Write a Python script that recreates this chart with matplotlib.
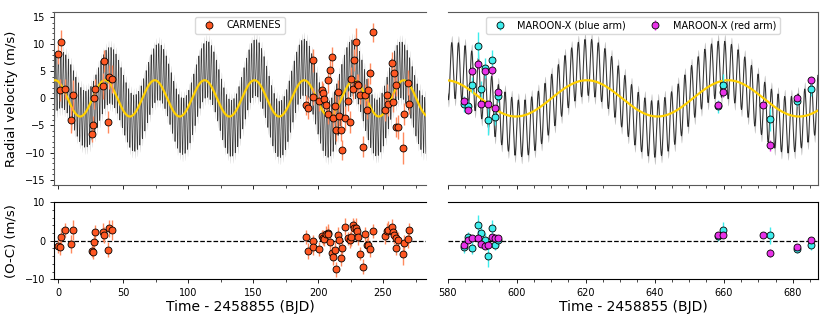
import numpy as np
import matplotlib.pyplot as plt
from matplotlib.ticker import MultipleLocator

plt.rcParams['font.family'] = 'DejaVu Sans'
plt.rcParams['axes.unicode_minus'] = True

# CARMENES (time - 2458855, RV, error, O-C)
t_carm = [0.2, 1.2, 2.4, 5.6, 10.2, 11.3,
          25.9, 26.6, 27.6, 28.8, 34.6, 35.5, 38.7, 39.4, 41.5,
          190.8, 192.6, 195.9, 196.4, 201.0, 202.8, 203.6, 204.6, 205.9, 207.4,
          207.9, 209.2, 211.0, 211.8, 213.1, 213.8, 215.1, 216.2, 217.7, 218.7,
          220.8, 223.3, 224.6, 225.4, 226.7, 227.7, 229.0, 229.8, 231.0, 232.3,
          234.4, 236.2, 237.4, 238.5, 240.0, 242.6, 251.5, 253.3, 254.1, 257.2,
          257.9, 258.7, 259.8, 260.2, 261.8, 265.6, 266.4, 269.5, 270.2]
rv_carm = [8.2, 1.6, 10.4, 1.7, -4.0, 0.7,
           -6.5, -5.0, 0.1, 1.8, 2.2, 6.9, -4.4, 3.9, 3.6,
           -1.2, -1.8, 0.3, 7.0, -0.4, 1.5, 0.9, -0.1, -1.3, 3.3,
           -2.8, 5.2, 7.6, -3.7, -1.5, -5.9, 1.2, -3.3, -5.9, -9.5,
           -3.7, -0.5, -4.4, 3.5, 1.7, 7.1, 10.4, 2.7, 2.5, 0.6,
           -8.9, 0.6, -2.1, 1.5, 4.6, 12.2, -2.1, 0.7, -1.0, 6.5,
           -0.7, 4.7, 2.5, -5.3, -5.3, -9.2, -2.9, 2.9, -1.0]
err_carm = [1.8, 2.0, 2.2, 1.8, 2.4, 2.6,
            1.6, 1.8, 2.0, 1.8, 2.4, 2.0, 2.0, 2.2, 2.6,
            1.8, 2.0, 1.6, 2.2, 1.9, 1.7, 2.0, 1.8, 2.1, 2.3,
            1.9, 2.4, 1.8, 2.0, 2.2, 1.9, 2.1, 1.8, 2.0, 1.9,
            2.2, 1.8, 2.0, 2.3, 1.9, 2.1, 2.6, 1.8, 2.0, 1.7,
            1.9, 2.0, 1.8, 2.2, 1.9, 1.8, 2.0, 1.9, 2.2, 2.1,
            1.8, 2.4, 2.0, 1.9, 2.2, 2.9, 2.1, 2.3, 1.8]
oc_carm = [-1.3, -1.6, 1.0, 2.7, -0.8, 2.7,
           -2.6, -2.9, -0.4, 2.3, 2.3, 1.5, -2.3, 3.2, 2.8,
           1.0, -2.7, -0.1, -1.6, -2.1, 1.2, 0.8, 0.5, 1.7, 2.1,
           1.8, -0.3, -3.2, -4.3, -2.3, -7.4, 1.6, 0.3, -4.5, -2.0,
           3.6, 0.6, 0.2, 0.9, 4.1, 3.4, 3.2, 2.5, 1.0, -3.4,
           -6.7, 1.7, -1.2, -1.0, -2.2, 2.6, 1.2, 2.6, 2.9, 3.5,
           2.3, 1.6, 0.8, -1.8, 0.1, -3.4, -0.6, 0.4, 2.7]

# MAROON-X blue arm
t_blue = [584.8, 585.8, 587.0, 588.7, 589.7, 590.8, 591.8, 592.8, 593.7, 594.7,
          658.4, 659.9, 673.4, 681.2, 685.2]
rv_blue = [-1.1, -1.5, 2.5, 9.7, 1.7, 5.6, -4.0, 7.0, -3.4, 0.5,
           -1.5, 2.5, -3.9, -0.4, 1.7]
err_blue = [1.5, 1.2, 1.5, 2.5, 1.5, 1.8, 2.8, 2.0, 1.5, 1.2,
            1.2, 2.0, 2.2, 1.0, 1.2]
oc_blue = [-1.6, 1.0, -1.9, 4.1, 2.1, 0.3, -3.9, 3.3, -1.0, 0.2,
           1.2, 2.9, 1.4, -2.1, -1.2]

# MAROON-X red arm
t_red = [584.8, 586.0, 587.0, 588.9, 589.7, 590.8, 591.8, 592.9, 593.7, 594.7,
         658.4, 659.7, 671.3, 673.4, 681.3, 685.2]
rv_red = [-0.4, -2.2, 5.0, 6.3, -1.1, 5.0, -1.1, 5.2, -1.8, 1.1,
          -1.2, 1.1, -1.2, -8.7, 0.1, 3.3]
err_red = [0.6, 0.7, 0.6, 0.8, 0.7, 0.6, 0.7, 0.8, 0.6, 0.6,
           0.7, 0.8, 0.7, 1.0, 0.6, 0.7]
oc_red = [-1.0, 0.3, 0.8, 0.6, -0.8, -1.4, -1.0, 1.0, 0.6, 0.8,
          1.4, 1.4, 1.4, -3.2, -1.6, 0.3]

# model parameters
act_amp = 3.35
act_period = [38.3, 41.0]      # season 1, season 2
act_tmin = [17.0, 599.8]
pb_period, pb_K, pb_tmax = 1.93, 5.2, 583.1
pc_period, pc_K, pc_tmax = 36.0, 2.4, 621.0
band = 1.3

c_carm = '#FF5722'
c_carm_err = '#FF8A5E'
c_blue = '#3EEDED'
c_red = '#E832E8'


def activity(t, season):
    return -act_amp * np.cos(2 * np.pi * (t - act_tmin[season]) / act_period[season])


def full_model(t, season):
    return (activity(t, season)
            + pb_K * np.cos(2 * np.pi * (t - pb_tmax) / pb_period)
            + pc_K * np.cos(2 * np.pi * (t - pc_tmax) / pc_period))


fig = plt.figure(figsize=(8.3, 3.23), dpi=100)
ax_l = fig.add_axes([0.0654, 0.4272, 0.4478, 0.5365])
ax_r = fig.add_axes([0.5394, 0.4272, 0.4465, 0.5365])
ax_lb = fig.add_axes([0.0654, 0.1353, 0.4478, 0.2384])
ax_rb = fig.add_axes([0.5394, 0.1353, 0.4465, 0.2384])

xlims = [(-2.85, 283.0), (580.0, 687.4)]
line_alpha = [0.75, 0.8]
line_width = [0.5, 0.7]

# model curves
for season, ax in enumerate([ax_l, ax_r]):
    tt = np.arange(xlims[season][0], xlims[season][1], 0.02)
    m = full_model(tt, season)
    ax.fill_between(tt, m - band, m + band, color='0.74', lw=0, zorder=1)
    ax.plot(tt, m, color='k', lw=line_width[season], alpha=line_alpha[season], zorder=2)
    ax.plot(tt, activity(tt, season), color='#FFD000', lw=1.6, zorder=3)

# data points
ebkw = dict(fmt='o', ms=5, mec='k', mew=0.6, capsize=0, elinewidth=1.0, zorder=5)
ax_l.errorbar(t_carm, rv_carm, yerr=err_carm, mfc=c_carm, ecolor=c_carm_err,
              label='CARMENES', **ebkw)
ax_r.errorbar(t_blue, rv_blue, yerr=err_blue, mfc=c_blue, ecolor=c_blue,
              label='MAROON-X (blue arm)', **ebkw)
ax_r.errorbar(t_red, rv_red, yerr=err_red, mfc=c_red, ecolor=c_red,
              label='MAROON-X (red arm)', **ebkw)

ax_lb.errorbar(t_carm, oc_carm, yerr=err_carm, mfc=c_carm, ecolor=c_carm_err, **ebkw)
ax_rb.errorbar(t_blue, oc_blue, yerr=err_blue, mfc=c_blue, ecolor=c_blue, **ebkw)
ax_rb.errorbar(t_red, oc_red, yerr=err_red, mfc=c_red, ecolor=c_red, **ebkw)

for ax in [ax_lb, ax_rb]:
    ax.axhline(0, color='k', ls='--', lw=0.9, zorder=4)

# axes setup
for ax, lim in [(ax_l, xlims[0]), (ax_lb, xlims[0]), (ax_r, xlims[1]), (ax_rb, xlims[1])]:
    ax.set_xlim(*lim)
    ax.tick_params(labelsize=7, length=3, width=0.6)
    ax.tick_params(which='minor', length=1.8, width=0.5)

for ax in [ax_l, ax_r]:
    ax.set_ylim(-16, 16)
    ax.tick_params(labelbottom=False)
    for s in ax.spines.values():
        s.set_color('0.35')
for ax in [ax_lb, ax_rb]:
    ax.set_ylim(-10, 10)

for ax in [ax_l, ax_lb]:
    ax.xaxis.set_major_locator(MultipleLocator(50))
    ax.xaxis.set_minor_locator(MultipleLocator(25))
    ax.spines['right'].set_visible(False)
for ax in [ax_r, ax_rb]:
    ax.xaxis.set_major_locator(MultipleLocator(20))
    ax.xaxis.set_minor_locator(MultipleLocator(5))
    ax.spines['left'].set_visible(False)
    ax.tick_params(left=False, labelleft=False, which='both')

ax_l.yaxis.set_major_locator(MultipleLocator(5))
ax_l.yaxis.set_minor_locator(MultipleLocator(1))
ax_lb.yaxis.set_major_locator(MultipleLocator(10))
ax_lb.yaxis.set_minor_locator(MultipleLocator(2))

ax_l.set_ylabel('Radial velocity (m/s)', fontsize=9.5)
ax_lb.set_ylabel('(O-C) (m/s)', fontsize=9.5)
ax_l.yaxis.set_label_coords(-0.098, 0.5)
ax_lb.yaxis.set_label_coords(-0.098, 0.5)
ax_lb.set_xlabel('Time - 2458855 (BJD)', fontsize=10, labelpad=1)
ax_rb.set_xlabel('Time - 2458855 (BJD)', fontsize=10, labelpad=1)

ax_l.legend(loc='upper center', fontsize=7, framealpha=1, edgecolor='0.85',
            borderpad=0.4)
ax_r.legend(loc='upper center', fontsize=7, ncol=2, framealpha=1, edgecolor='0.85',
            borderpad=0.4)

fig.savefig('out.png', dpi=100)
